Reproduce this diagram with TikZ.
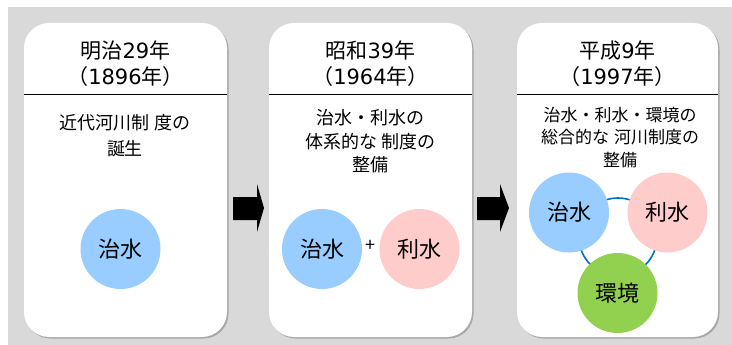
\documentclass[tikz,border=0pt]{standalone}
\usepackage{fontspec}
\newfontfamily\jp{Noto Sans CJK JP}
\newfontfamily\dg{DejaVu Sans}
\definecolor{bg}{HTML}{D9D9D9}
\definecolor{shade}{HTML}{A6A6A6}
\definecolor{cblue}{HTML}{99CCFF}
\definecolor{cpink}{HTML}{FFCCCC}
\definecolor{cgreen}{HTML}{92D050}
\definecolor{ringc}{HTML}{0070C0}
\begin{document}
\begin{tikzpicture}[x=1pt,y=-1pt,
  panel/.style={fill=white,rounded corners=25pt},
  panelshadow/.style={fill=shade,rounded corners=25pt},
  title/.style={font=\jp\fontsize{21}{26.5}\selectfont,align=center,inner sep=0pt},
  body/.style={font=\jp\fontsize{18}{25.5}\selectfont,align=center,inner sep=0pt},
  topic/.style={circle,minimum size=80pt,inner sep=0pt,font=\jp\fontsize{22}{26}\selectfont},
  sep/.style={line width=0.8pt,black},
  blockarrow/.style={fill=black}]
\useasboundingbox (0,0) rectangle (732,345);
\fill[white] (0,0) rectangle (732,345);
\fill[bg] (8,7) rectangle (732,345);
% panels
\fill[panelshadow] (25.5,24.5) rectangle (228.5,338.5);
\fill[panel] (24,23) rectangle (227,337);
\fill[panelshadow] (270.5,24.5) rectangle (473.5,338.5);
\fill[panel] (269,23) rectangle (472,337);
\fill[panelshadow] (518.5,24.5) rectangle (719.5,338.5);
\fill[panel] (517,23) rectangle (718,337);
% header separators
\draw[sep] (24,94) -- (227,94);
\draw[sep] (269,94) -- (472,94);
\draw[sep] (517,94) -- (718,94);
% titles
\node[title] (t1) at (125.5,63.5) {明治{\dg 29}年\\（{\dg 1896}年）};
\node[title] (t2) at (370.5,63.5) {昭和{\dg 39}年\\（{\dg 1964}年）};
\node[title] (t3) at (617.5,63.5) {平成{\dg 9}年\\（{\dg 1997}年）};
% body texts
\node[body] (b1) at (125,135.5) {近代河川制\kern5pt 度の\\誕生};
\node[body,font=\jp\fontsize{18}{23.5}\selectfont] (b2) at (370.5,141.5) {治水・利水の\\体系的な\kern5pt 制度の\\整備};
\node[body,font=\jp\fontsize{17}{22.5}\selectfont] (b3) at (620,137.5) {治水・利水・環境の\\総合的な\kern5pt 河川制度の\\整備};
% arrows
\fill[blockarrow] (233,197) -- (257,197) -- (257,184) -- (264,208) -- (257,232) -- (257,220) -- (233,220) -- cycle;
\fill[blockarrow] (477,197) -- (500,197) -- (500,184) -- (509,208) -- (500,232) -- (500,220) -- (477,220) -- cycle;
% circles
\node[topic,fill=cblue] (c1) at (120.5,249) {治水};
\node[topic,fill=cblue] (c2a) at (322,249) {治水};
\node[topic,fill=cpink] (c2b) at (419.5,249) {利水};
\node[font=\jp\fontsize{18}{18}\selectfont,inner sep=0pt] (plus) at (370.5,246) {+};
\coordinate (ringcenter) at (618,237);
\draw[ringc,line width=1.6pt] (ringcenter) circle[radius=39pt];
\node[topic,fill=cblue] (c3a) at (569,212.5) {治水};
\node[topic,fill=cpink] (c3b) at (667.5,212.5) {利水};
\node[topic,fill=cgreen] (c3c) at (617.5,293) {環境};
\end{tikzpicture}
\end{document}
